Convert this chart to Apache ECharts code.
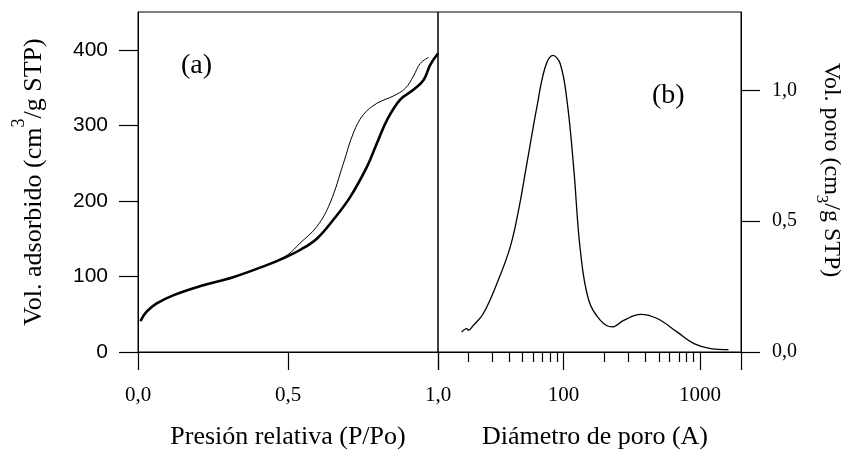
<!DOCTYPE html>
<html>
<head>
<meta charset="utf-8">
<script src="https://cdn.jsdelivr.net/npm/echarts@6/dist/echarts.min.js"></script>
<style>
html,body{margin:0;padding:0;background:#fff;}
#chart{width:850px;height:461px;}
</style>
</head>
<body>
<div id="chart"></div>
<script>
// (a) Isotherm: adsorption branch (thick)
const adsP = [0.008, 0.028, 0.061, 0.117, 0.206, 0.317, 0.429, 0.484, 0.54, 0.596, 0.651, 0.707, 0.763, 0.796, 0.830, 0.874, 0.918, 0.952, 0.974, 1.0];
const adsV = [41, 53, 64, 75, 87, 99, 115, 124, 135, 150, 175, 205, 245, 276, 307, 334, 347, 360, 380, 395];
// (a) Isotherm: desorption branch (thin)
const desP = [0.45, 0.50, 0.54, 0.596, 0.640, 0.685, 0.718, 0.751, 0.796, 0.852, 0.891, 0.918, 0.941, 0.969];
const desV = [119, 129, 144, 166, 197, 250, 290, 314, 329, 339, 349, 365, 382, 390];
// (b) Pore size distribution
const poreD = [17.9, 19.5, 20.0, 21.8, 25.8, 32.4, 40.6, 46.7, 53.8, 63.7, 73.3, 83.5, 94.5, 105.9, 118.5, 132.7, 152.9, 186.3, 226.8, 276.2, 366.4, 486.2, 682.5, 904.6, 1199, 1618];
const poreV = [0.076, 0.089, 0.083, 0.102, 0.147, 0.261, 0.401, 0.541, 0.720, 0.936, 1.089, 1.134, 1.102, 0.962, 0.707, 0.389, 0.198, 0.121, 0.096, 0.121, 0.144, 0.128, 0.076, 0.032, 0.013, 0.009];

// Tick values
const leftXTicks = [0, 0.5, 1.0];
const leftYTicks = [0, 100, 200, 300, 400];
const rightYTicks = [0, 0.5, 1.0];
const rightXMajor = [12, 100, 1000, 2000];
const rightXLabels = [100, 1000];
const rightXMinor = [20, 30, 40, 50, 60, 70, 80, 90, 200, 300, 400, 500, 600, 700, 800, 900];

const SERIF = 'Liberation Serif';
const SANS = 'Liberation Sans';
const comma = v => Number(v).toFixed(1).replace('.', ',');

const chart = echarts.init(document.getElementById('chart'), null, {renderer: 'canvas'});

const ads = adsP.map((p, i) => [p, adsV[i]]);
const des = desP.map((p, i) => [p, desV[i]]);
const pore = poreD.map((d, i) => [d, poreV[i]]);

const tickStyle = {color: '#000', width: 1.2};

const option = {
  animation: false,
  backgroundColor: '#fff',
  grid: [
    {left: 138, top: 12, width: 300, height: 340, show: true, borderColor: '#000', borderWidth: 1, backgroundColor: 'transparent'},
    {left: 438, top: 12, width: 303, height: 340, show: true, borderColor: '#000', borderWidth: 1, backgroundColor: 'transparent'}
  ],
  xAxis: [
    {
      type: 'value', gridIndex: 0, min: 0, max: 1, interval: 0.5,
      axisLine: {show: true, lineStyle: {color: '#000', width: 1}},
      axisTick: {show: true, inside: false, length: 18, lineStyle: tickStyle, customValues: leftXTicks},
      axisLabel: {margin: 33, fontFamily: SERIF, fontSize: 21, color: '#000', formatter: comma, customValues: leftXTicks},
      splitLine: {show: false},
      name: 'Presión relativa (P/Po)', nameLocation: 'middle', nameGap: 72,
      nameTextStyle: {fontFamily: SERIF, fontSize: 26, color: '#000'}
    },
    {
      type: 'log', gridIndex: 1, min: 12, max: 2000, logBase: 10,
      axisLine: {show: true, lineStyle: {color: '#000', width: 1}},
      axisTick: {show: true, inside: false, length: 18, lineStyle: tickStyle, customValues: rightXMajor},
      axisLabel: {margin: 33, fontFamily: SERIF, fontSize: 21, color: '#000', customValues: rightXLabels,
        formatter: v => String(Math.round(v))},
      splitLine: {show: false},
      name: 'Diámetro de poro (A)', nameLocation: 'middle', nameGap: 72,
      nameTextStyle: {fontFamily: SERIF, fontSize: 26, color: '#000', padding: [0, 0, 0, 11]}
    },
    {
      type: 'log', gridIndex: 1, min: 12, max: 2000, logBase: 10, position: 'bottom',
      axisLine: {show: false},
      axisTick: {show: true, length: 10, lineStyle: tickStyle, customValues: rightXMinor},
      axisLabel: {show: false},
      splitLine: {show: false}
    }
  ],
  yAxis: [
    {
      type: 'value', gridIndex: 0, min: 0, max: 450,
      axisLine: {show: true, lineStyle: {color: '#000', width: 1}},
      axisTick: {show: true, inside: false, length: 19, lineStyle: tickStyle, customValues: leftYTicks},
      axisLabel: {margin: 30, fontFamily: SANS, fontSize: 21, color: '#000', customValues: leftYTicks},
      splitLine: {show: false},
      name: 'Vol. adsorbido (cm{sup|3}/g STP)', nameLocation: 'middle', nameGap: 80, nameRotate: 90,
      nameTextStyle: {fontFamily: SERIF, fontSize: 26, color: '#000', lineHeight: 48,
        rich: {sup: {fontFamily: SERIF, fontSize: 18, lineHeight: 18, verticalAlign: 'top', color: '#000'}}}
    },
    {
      type: 'value', gridIndex: 1, min: 0, max: 1.3, position: 'right',
      axisLine: {show: true, lineStyle: {color: '#000', width: 1}},
      axisTick: {show: true, inside: false, length: 19, lineStyle: tickStyle, customValues: rightYTicks},
      axisLabel: {margin: 31, fontFamily: SERIF, fontSize: 20, color: '#000', formatter: comma, customValues: rightYTicks},
      splitLine: {show: false},
      name: 'Vol. poro (cm{sub|3}/g STP)', nameLocation: 'middle', nameGap: 72, nameRotate: -90,
      nameTextStyle: {fontFamily: SERIF, fontSize: 24, color: '#000', lineHeight: 36, padding: [0, 24, 0, 0],
        rich: {sub: {fontFamily: SERIF, fontSize: 17, lineHeight: 17, verticalAlign: 'bottom', color: '#000'}}}
    }
  ],
  graphic: [
    {type: 'text', left: 181, top: 52, style: {text: '(a)', fontFamily: SERIF, fontSize: 28, fill: '#000'}},
    {type: 'text', left: 652, top: 82, style: {text: '(b)', fontFamily: SERIF, fontSize: 28, fill: '#000'}}
  ],
  series: [
    {type: 'line', xAxisIndex: 0, yAxisIndex: 0, data: des, smooth: 0.4, showSymbol: false,
      lineStyle: {color: '#000', width: 1}},
    {type: 'line', xAxisIndex: 0, yAxisIndex: 0, data: ads, smooth: 0.4, showSymbol: false,
      lineStyle: {color: '#000', width: 2.6}},
    {type: 'line', xAxisIndex: 1, yAxisIndex: 1, data: pore, smooth: 0.4, showSymbol: false,
      lineStyle: {color: '#000', width: 1.3}}
  ]
};
chart.setOption(option);
</script>
</body>
</html>
